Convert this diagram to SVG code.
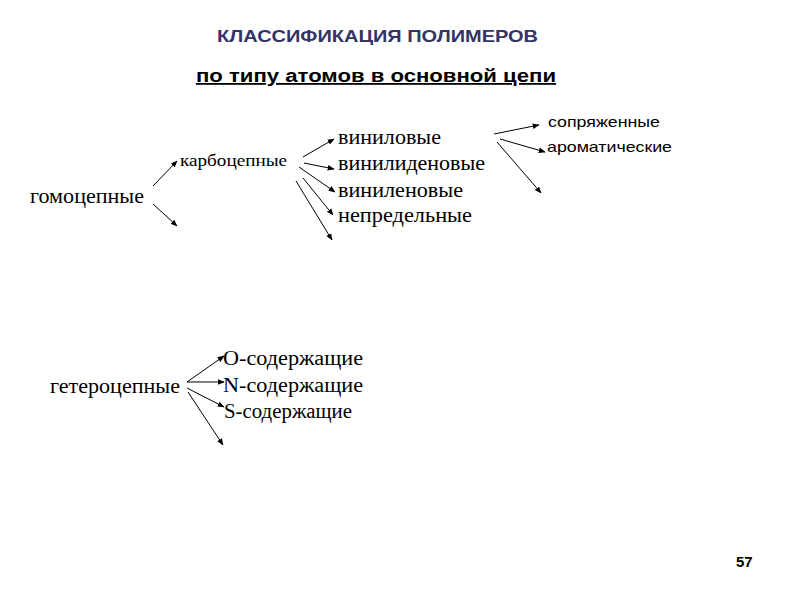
<svg xmlns="http://www.w3.org/2000/svg" width="800" height="600" viewBox="0 0 800 600">
<defs>
<marker id="ah" viewBox="0 0 10 10" refX="9" refY="5" markerWidth="7" markerHeight="7" markerUnits="userSpaceOnUse" orient="auto">
<path d="M0,1 L10,5 L0,9 Z" fill="#000"/>
</marker>
<style>
.serif{font-family:"Liberation Serif","Times New Roman",serif;fill:#000}
.sans{font-family:"Liberation Sans",Arial,sans-serif;fill:#000}
.title{font-family:"Liberation Sans",Arial,sans-serif;font-weight:bold;fill:#333366;font-size:17px}
.sub{font-family:"Liberation Sans",Arial,sans-serif;font-weight:bold;fill:#000;font-size:18px;text-decoration:underline}
.l1{font-size:21px}
.l2{font-size:17px}
.l3{font-size:20px}
.ar{stroke:#000;stroke-width:1;fill:none;marker-end:url(#ah)}
</style>
</defs>
<rect width="800" height="600" fill="#fff"/>
<g id="title">
<text class="title" x="217" y="42" textLength="321" lengthAdjust="spacingAndGlyphs">КЛАССИФИКАЦИЯ ПОЛИМЕРОВ</text>
</g>
<g id="subtitle">
<text class="sub" x="196" y="82" textLength="360" lengthAdjust="spacingAndGlyphs">по типу атомов в основной цепи</text>
</g>
<g id="connectors">
<line class="ar" x1="153" y1="186" x2="177" y2="161"/>
<line class="ar" x1="153" y1="204" x2="177" y2="226"/>
<line class="ar" x1="303" y1="157" x2="334" y2="139"/>
<line class="ar" x1="304" y1="163" x2="334" y2="169"/>
<line class="ar" x1="299" y1="167" x2="335" y2="192"/>
<line class="ar" x1="303" y1="178" x2="333" y2="215"/>
<line class="ar" x1="296" y1="181" x2="332" y2="240"/>
<line class="ar" x1="494" y1="134" x2="539" y2="125"/>
<line class="ar" x1="500" y1="139" x2="545" y2="152"/>
<line class="ar" x1="497" y1="142" x2="541" y2="193"/>
<line class="ar" x1="187" y1="382" x2="224" y2="356"/>
<line class="ar" x1="187" y1="382" x2="224" y2="382"/>
<line class="ar" x1="187" y1="388" x2="224" y2="407"/>
<line class="ar" x1="188" y1="392" x2="223" y2="445"/>
</g>
<g id="n-gomo"><text class="serif l1" x="30" y="203" textLength="114" lengthAdjust="spacingAndGlyphs">гомоцепные</text></g>
<g id="n-karbo"><text class="serif l2" x="180" y="166" textLength="107" lengthAdjust="spacingAndGlyphs">карбоцепные</text></g>
<g id="n-vinil"><text class="serif l3" x="338" y="144" textLength="103" lengthAdjust="spacingAndGlyphs">виниловые</text></g>
<g id="n-vinilid"><text class="serif l3" x="338" y="170" textLength="147" lengthAdjust="spacingAndGlyphs">винилиденовые</text></g>
<g id="n-vinilen"><text class="serif l3" x="338" y="197" textLength="125" lengthAdjust="spacingAndGlyphs">виниленовые</text></g>
<g id="n-nepred"><text class="serif l3" x="338" y="222" textLength="134" lengthAdjust="spacingAndGlyphs">непредельные</text></g>
<g id="n-sopr"><text class="sans" font-size="15" x="548" y="127" textLength="112" lengthAdjust="spacingAndGlyphs">сопряженные</text></g>
<g id="n-arom"><text class="sans" font-size="15" x="547" y="152" textLength="125" lengthAdjust="spacingAndGlyphs">ароматические</text></g>
<g id="n-getero"><text class="serif l3" x="50" y="393" textLength="130" lengthAdjust="spacingAndGlyphs">гетероцепные</text></g>
<g id="n-o"><text class="serif l3" x="223" y="365" textLength="140" lengthAdjust="spacingAndGlyphs">O-содержащие</text></g>
<g id="n-n"><text class="serif l3" x="223" y="392" textLength="140" lengthAdjust="spacingAndGlyphs">N-содержащие</text></g>
<g id="n-s"><text class="serif l3" x="224" y="418" textLength="128" lengthAdjust="spacingAndGlyphs">S-содержащие</text></g>
<g id="page"><text class="sans" font-weight="bold" font-size="15" x="736" y="567">57</text></g>
</svg>
